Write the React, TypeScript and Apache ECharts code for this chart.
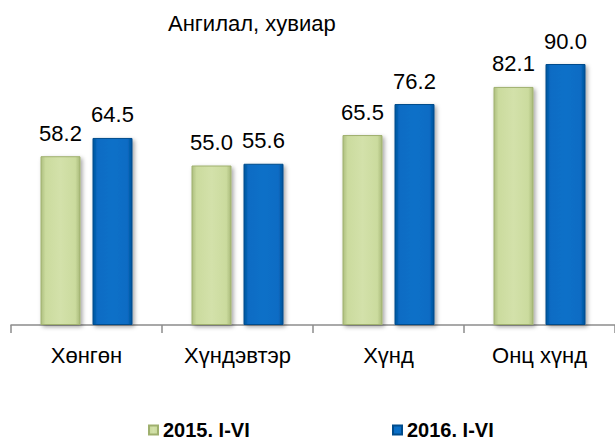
import React, { useEffect, useRef } from "react";
import * as echarts from "echarts";

const categories = ["Хөнгөн", "Хүндэвтэр", "Хүнд", "Онц хүнд"];
const seriesNames = ["2015. I-VI", "2016. I-VI"];
const values2015 = [58.2, 55.0, 65.5, 82.1];
const values2016 = [64.5, 55.6, 76.2, 90.0];
const chartTitle = "Ангилал, хувиар";

const FONT = "'Liberation Sans', Arial, sans-serif";

const greenFill = new echarts.graphic.LinearGradient(0, 0, 1, 0, [
  { offset: 0, color: "#aebf80" },
  { offset: 0.12, color: "#cbdb9e" },
  { offset: 0.5, color: "#d3e1aa" },
  { offset: 0.88, color: "#cbdb9e" },
  { offset: 1, color: "#a9ba7a" },
]);
const blueFill = new echarts.graphic.LinearGradient(0, 0, 1, 0, [
  { offset: 0, color: "#00549c" },
  { offset: 0.12, color: "#0a6cc4" },
  { offset: 0.5, color: "#0a70c8" },
  { offset: 0.88, color: "#0a6cc4" },
  { offset: 1, color: "#00529a" },
]);

export default function App() {
  const ref = useRef<HTMLDivElement>(null);
  useEffect(() => {
    if (!ref.current) return;
    const chart = echarts.init(ref.current, null, { renderer: "svg" });
    const labelCfg = {
      show: true,
      position: "top" as const,
      distance: 12,
      fontSize: 22,
      fontFamily: FONT,
      color: "#000",
      formatter: (p: any) => Number(p.value).toFixed(1),
    };
    const shadow = {
      shadowColor: "rgba(0,0,0,0.35)",
      shadowBlur: 4,
      shadowOffsetX: 2,
      shadowOffsetY: 2,
    };
    const legendText = { fontSize: 20, fontWeight: "bold", fontFamily: FONT, color: "#000" };
    chart.setOption({
      animation: false,
      backgroundColor: "#fff",
      title: {
        text: chartTitle,
        left: 168,
        top: 12,
        padding: 0,
        textStyle: { fontSize: 22, fontWeight: "normal", fontFamily: FONT, color: "#000" },
      },
      legend: [
        {
          data: [seriesNames[0]],
          left: 148,
          top: 420,
          padding: 0,
          itemWidth: 9,
          itemHeight: 9,
          itemGap: 0,
          icon: "rect",
          textStyle: legendText,
        },
        {
          data: [seriesNames[1]],
          left: 392,
          top: 420,
          padding: 0,
          itemWidth: 9,
          itemHeight: 9,
          itemGap: 0,
          icon: "rect",
          textStyle: legendText,
        },
      ],
      grid: { left: 11, right: -7, top: 35, bottom: 118, containLabel: false },
      xAxis: {
        type: "category",
        data: categories,
        axisLine: { show: true, lineStyle: { color: "#8c8c8c", width: 1.5 } },
        axisTick: { show: true, length: 8, lineStyle: { color: "#8c8c8c", width: 1.5 } },
        axisLabel: { fontSize: 22, fontFamily: FONT, color: "#000", margin: 19 },
      },
      yAxis: { type: "value", min: 0, max: 100, show: false, splitLine: { show: false } },
      series: [
        {
          name: seriesNames[0],
          type: "bar",
          data: values2015,
          barWidth: 40,
          barGap: "30%",
          itemStyle: { color: greenFill, borderColor: "#9fb06e", borderWidth: 1, ...shadow },
          label: labelCfg,
        },
        {
          name: seriesNames[1],
          type: "bar",
          data: values2016,
          barWidth: 40,
          barGap: "30%",
          itemStyle: { color: blueFill, borderColor: "#004c8c", borderWidth: 1, ...shadow },
          label: labelCfg,
        },
      ],
    });
    return () => chart.dispose();
  }, []);
  return (
    <div
      ref={ref}
      style={{ position: "fixed", left: 0, top: 0, width: 615, height: 443, background: "#fff" }}
    />
  );
}
